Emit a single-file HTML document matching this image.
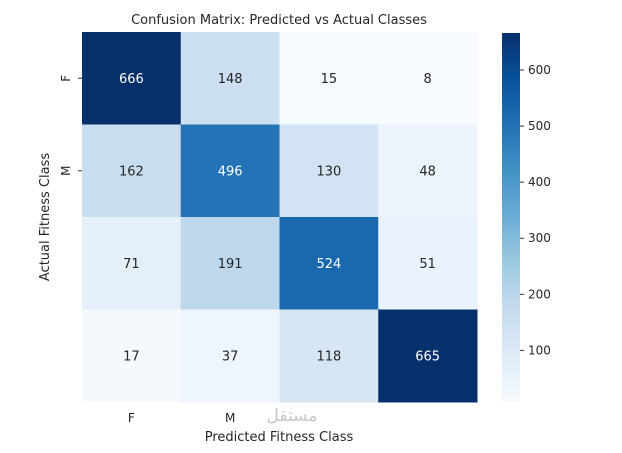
<!DOCTYPE html>
<html><head><meta charset="utf-8"><style>
body{margin:0;background:#fff;font-family:"Liberation Sans","DejaVu Sans",sans-serif;}
svg text{font-family:"DejaVu Sans","Liberation Sans",sans-serif;}
</style></head><body>
<svg id="c" width="622" height="448"></svg>
<script>
const rowLabels=["F","M","",""];
const colLabels=["F","M","",""];
const matrix=[[666,148,15,8],[162,496,130,48],[71,191,524,51],[17,37,118,665]];
const cbTicks=[100,200,300,400,500,600];
const NS="http://www.w3.org/2000/svg";
const svg=document.getElementById('c');
function mk(t,a,p){const e=document.createElementNS(NS,t);for(const k in a)e.setAttribute(k,a[k]);(p||svg).appendChild(e);return e;}
const stops=["#f7fbff","#deebf7","#c6dbef","#9ecae1","#6baed6","#4292c6","#2171b5","#08519c","#08306b"].map(h=>[1,3,5].map(i=>parseInt(h.substr(i,2),16)));
const flat=matrix.flat();const vmin=Math.min(...flat),vmax=Math.max(...flat);
function color(v){let t=(v-vmin)/(vmax-vmin);t=Math.max(0,Math.min(1,t))*8;const i=Math.min(7,Math.floor(t)),f=t-i;const c=stops[i].map((x,k)=>Math.round(x+(stops[i+1][k]-x)*f));return `rgb(${c})`;}
const X0=82,Y0=32,W=395,H=370,cw=W/4,ch=H/4;
const title=mk('text',{x:279,y:24,'text-anchor':'middle','font-size':13,fill:'#262626'});title.textContent="Confusion Matrix: Predicted vs Actual Classes";


matrix.forEach((row,r)=>row.forEach((v,c)=>{
 const rc=mk('rect',{x:X0+c*cw,y:Y0+r*ch,width:cw+0.5,height:ch+0.5,fill:color(v)});
 
 
 const t=mk('text',{x:X0+c*cw+cw/2,y:Y0+r*ch+ch/2+4.5,'text-anchor':'middle','font-size':13,fill:(v-vmin)/(vmax-vmin)>0.5?'#fff':'#262626'});
 t.textContent=v;
 
 
}));
rowLabels.forEach((l,i)=>{if(!l)return;const y=Y0+i*ch+ch/2;
 const t=mk('text',{x:0,y:0,transform:`translate(70,${y}) rotate(-90)`,'text-anchor':'middle','font-size':12,fill:'#262626'});t.textContent=l;
 
 
 mk('line',{x1:X0-4,x2:X0,y1:y,y2:y,stroke:'#333'});});
colLabels.forEach((l,i)=>{if(!l)return;const x=X0+i*cw+cw/2;
 const t=mk('text',{x:x,y:422,'text-anchor':'middle','font-size':12,fill:'#262626'});t.textContent=l;
 
 });
const xt=mk('text',{x:279,y:441,'text-anchor':'middle','font-size':13,fill:'#262626'});xt.textContent="Predicted Fitness Class";


const yt=mk('text',{x:0,y:0,transform:`translate(49,${Y0+H/2}) rotate(-90)`,'text-anchor':'middle','font-size':13,fill:'#262626'});yt.textContent="Actual Fitness Class";


const wm=mk('text',{x:292,y:421,'text-anchor':'middle','font-size':17,fill:'#c8c8c8','font-family':'DejaVu Sans'});wm.textContent="مستقل";


// colorbar
const CX=502,CW=18,CY0=33,CY1=402;
const defs=mk('defs',{});const g=mk('linearGradient',{id:'g',x1:0,y1:1,x2:0,y2:0},defs);
stops.forEach((s,i)=>mk('stop',{offset:i/8,'stop-color':`rgb(${s})`},g));
const cb=mk('rect',{x:CX,y:CY0,width:CW,height:CY1-CY0,fill:'url(#g)'});


function cy(v){return CY1-(v-vmin)/(vmax-vmin)*(CY1-CY0);}
cbTicks.forEach(v=>{const y=cy(v);mk('line',{x1:CX+CW,x2:CX+CW+4,y1:y,y2:y,stroke:'#333'});
 const t=mk('text',{x:CX+CW+8,y:y+4,'font-size':12,fill:'#262626'});t.textContent=v;
 
 });
</script>
</body></html>
